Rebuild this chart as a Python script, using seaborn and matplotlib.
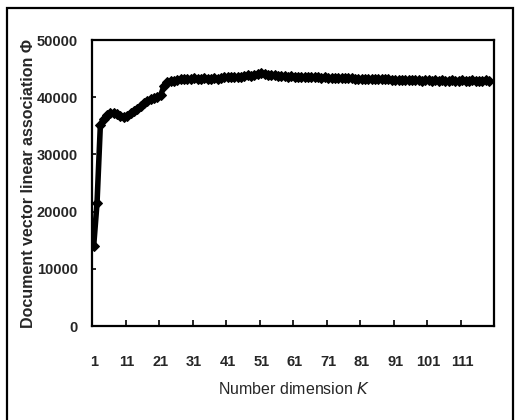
import matplotlib
matplotlib.use("Agg")
import matplotlib.pyplot as plt
import seaborn as sns
import pandas as pd
from matplotlib.patches import Rectangle

# ---- data ----
dims = list(range(1, 120))
phi = [
    14000, 21500, 35200, 36200, 36900, 37300, 37200, 37100, 36800, 36500,
    36700, 37200, 37600, 38000, 38500, 39000, 39300, 39600, 39800, 40100,
    40300, 42000, 42600, 42800, 42900, 43000, 43100, 43200, 43200, 43250,
    43300, 43200, 43250, 43300, 43250, 43200, 43300, 43250, 43400, 43500,
    43450, 43600, 43500, 43550, 43600, 43700, 43800, 43750, 43900, 44100,
    44200, 44000, 43900, 43800, 43850, 43700, 43650, 43700, 43600, 43650,
    43600, 43550, 43600, 43550, 43500, 43550, 43500, 43450, 43400, 43450,
    43400, 43350, 43400, 43350, 43300, 43350, 43300, 43300, 43250, 43250,
    43200, 43250, 43200, 43150, 43200, 43150, 43100, 43150, 43100, 43050,
    43000, 43050, 43000, 42950, 43000, 42950, 43000, 42950, 42900, 42950,
    42950, 42900, 42950, 42900, 42950, 42900, 42900, 42950, 42900, 42900,
    42950, 42900, 42900, 42950, 42900, 42900, 42900, 42950, 42900,
]
assert len(phi) == len(dims)
x_tick_labels = [str(v) for v in range(1, 112, 10)]
y_ticks = [0, 10000, 20000, 30000, 40000, 50000]

df = pd.DataFrame({"K": dims, "phi": phi})

sns.set_theme(style="white")
fam = ["Liberation Sans", "DejaVu Sans"]
plt.rcParams["font.family"] = fam

fig = plt.figure(figsize=(5.15, 4.2), dpi=100)
ax = fig.add_axes([92 / 515, 1 - 326 / 420, (494 - 92) / 515, (326 - 40) / 420])

sns.lineplot(data=df, x="K", y="phi", ax=ax, color="black", linewidth=4.0,
             marker="D", markersize=5, markeredgecolor="black")

ax.set_xlim(0.5, 119.5)
ax.set_ylim(0, 50000)

for s in ax.spines.values():
    s.set_color("black")
    s.set_linewidth(1.6)
    s.set_visible(True)

# x ticks: marks between categories, labels on categories
ax.set_xticks([v + 9.5 for v in range(1, 112, 10)])
ax.set_xticklabels([])
ax.tick_params(axis="x", which="major", direction="in", length=4, width=1.2,
               color="black", bottom=True)
ax.set_xticks(list(range(1, 112, 10)), minor=True)
ax.set_xticklabels(x_tick_labels, minor=True, fontsize=10.5, fontweight="bold")
ax.tick_params(axis="x", which="minor", length=0, pad=21, bottom=True)

ax.set_yticks(y_ticks)
ax.set_yticklabels([str(v) for v in y_ticks], fontsize=10.5, fontweight="bold")
ax.tick_params(axis="y", direction="in", length=3, width=1.2, color="black",
               left=True, pad=10)

ax.set_xlabel("")
ax.set_ylabel("")
fig.text(294 / 515, 1 - 389 / 420, r"Number dimension $\it{K}$",
         ha="center", va="center", fontsize=11.5, family=fam)
fig.text(29 / 515, 1 - 184 / 420, "Document vector linear association Φ",
         rotation=90, ha="center", va="center", fontsize=11.5,
         fontweight="bold", family=fam)

# outer frame
fig.patches.append(Rectangle((7 / 515, -0.1), 506 / 515, 1.1 - 8 / 420,
                             transform=fig.transFigure, fill=False,
                             edgecolor="black", linewidth=1.6))

fig.savefig("out.png", dpi=100)
